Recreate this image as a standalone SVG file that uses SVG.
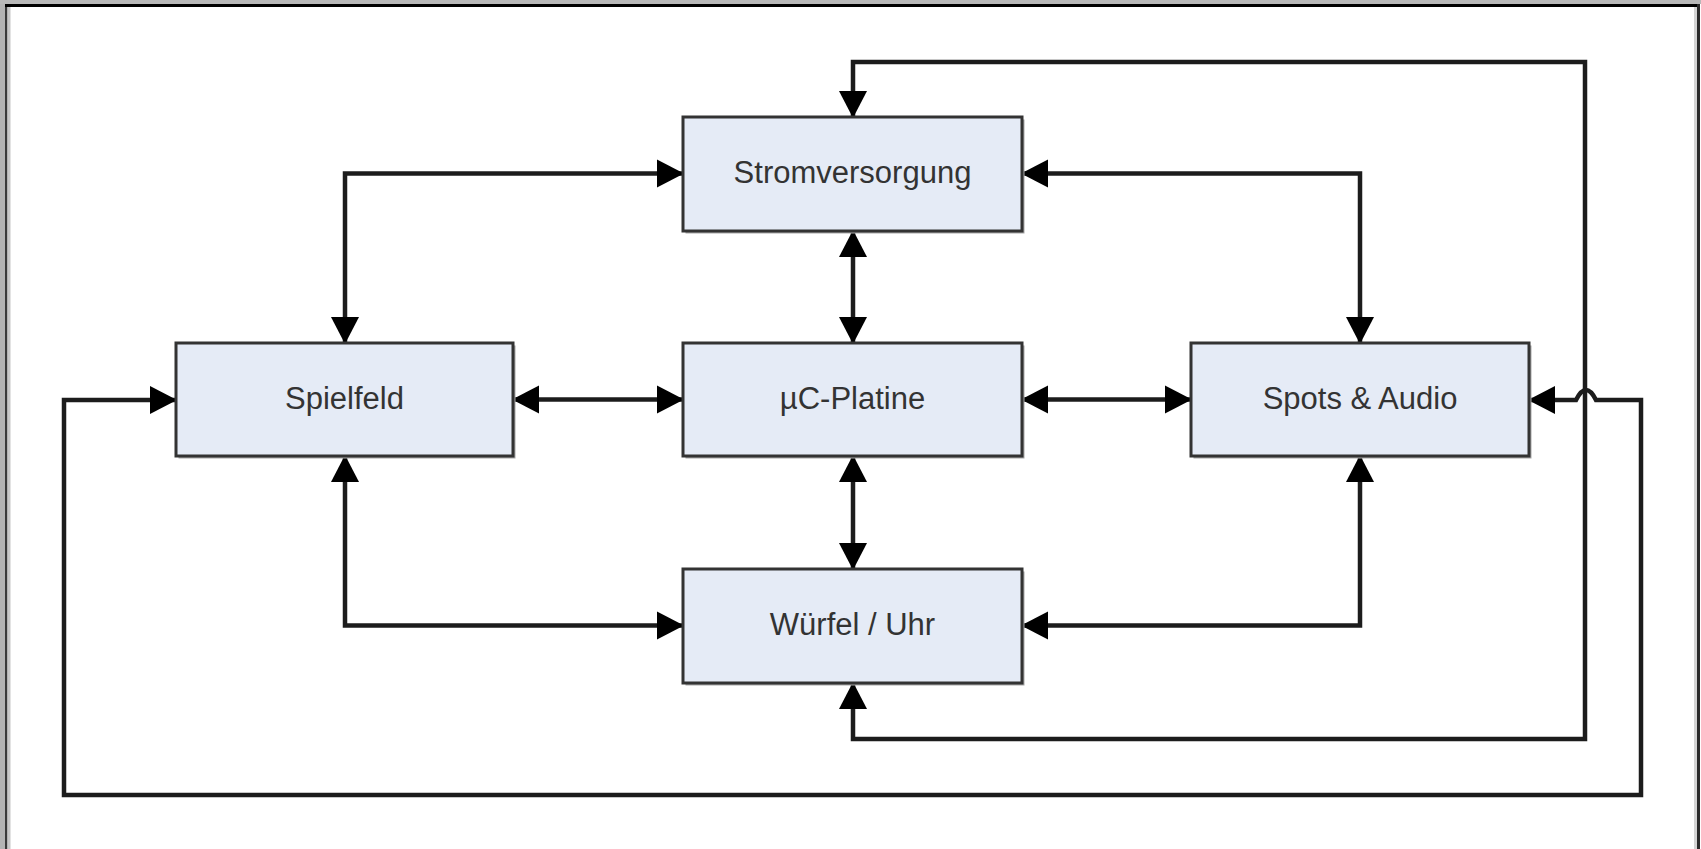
<svg xmlns="http://www.w3.org/2000/svg" width="1701" height="849" viewBox="0 0 1701 849">
<style>
.box{fill:#e5ebf6;stroke:#333;stroke-width:3}
.shadow{fill:#a8a8a8}
.lbl{font-family:"Liberation Sans",Arial,sans-serif;font-size:31px;fill:#333;text-anchor:middle}
.con{fill:none;stroke:#1c1c1c;stroke-width:4.5;stroke-linejoin:miter}
</style>
<defs>
<marker id="ah" markerUnits="userSpaceOnUse" markerWidth="28" markerHeight="30" refX="26" refY="15" orient="auto-start-reverse" viewBox="0 0 28 30">
<path d="M0,1 L27,15 L0,29 z" fill="#000"/>
</marker>
</defs>
<rect x="0" y="0" width="1701" height="849" fill="#fff"/>
<g id="frame">
<rect x="0" y="0" width="5" height="849" fill="#b3b3b3"/>
<rect x="0" y="0" width="1701" height="4" fill="#b8b8b8"/>
<rect x="5" y="4" width="2.5" height="845" fill="#3a3a3a"/>
<rect x="7.5" y="7" width="3" height="842" fill="#c8c8c8"/>
<rect x="5" y="4" width="1692" height="3" fill="#000"/>
<rect x="1694" y="7" width="3" height="842" fill="#d4d4d4"/>
<rect x="1697" y="4" width="3" height="845" fill="#2a2a2a"/>
</g>
<g id="connectors">
<path class="con" d="M683,173.5 H345 V343" marker-start="url(#ah)" marker-end="url(#ah)"/>
<path class="con" d="M1022,173.5 H1360 V343" marker-start="url(#ah)" marker-end="url(#ah)"/>
<path class="con" d="M853,231 V343" marker-start="url(#ah)" marker-end="url(#ah)"/>
<path class="con" d="M513,399.5 H683" marker-start="url(#ah)" marker-end="url(#ah)"/>
<path class="con" d="M1022,399.5 H1191" marker-start="url(#ah)" marker-end="url(#ah)"/>
<path class="con" d="M853,456 V569" marker-start="url(#ah)" marker-end="url(#ah)"/>
<path class="con" d="M345,456 V625.5 H683" marker-start="url(#ah)" marker-end="url(#ah)"/>
<path class="con" d="M1360,456 V625.5 H1022" marker-start="url(#ah)" marker-end="url(#ah)"/>
<path class="con" d="M853,683 V739 H1585 V62 H853 V117" marker-start="url(#ah)" marker-end="url(#ah)"/>
<path class="con" d="M176,400 H64 V795 H1641 V400 H1596 Q1586,380 1576,400 H1529" marker-start="url(#ah)" marker-end="url(#ah)"/>
</g>
<g id="stromversorgung">
<rect class="shadow" x="685.5" y="119.5" width="339" height="114"/>
<rect class="box" x="683" y="117" width="339" height="114"/>
<text class="lbl" x="852.5" y="183">Stromversorgung</text>
</g>
<g id="spielfeld">
<rect class="shadow" x="178.5" y="345.5" width="337" height="113"/>
<rect class="box" x="176" y="343" width="337" height="113"/>
<text class="lbl" x="344.5" y="409">Spielfeld</text>
</g>
<g id="uc-platine">
<rect class="shadow" x="685.5" y="345.5" width="339" height="113"/>
<rect class="box" x="683" y="343" width="339" height="113"/>
<text class="lbl" x="852.5" y="409">µC-Platine</text>
</g>
<g id="spots-audio">
<rect class="shadow" x="1193.5" y="345.5" width="338" height="113"/>
<rect class="box" x="1191" y="343" width="338" height="113"/>
<text class="lbl" x="1360" y="409">Spots &amp; Audio</text>
</g>
<g id="wuerfel-uhr">
<rect class="shadow" x="685.5" y="571.5" width="339" height="114"/>
<rect class="box" x="683" y="569" width="339" height="114"/>
<text class="lbl" x="852.5" y="635">Würfel / Uhr</text>
</g>
</svg>
